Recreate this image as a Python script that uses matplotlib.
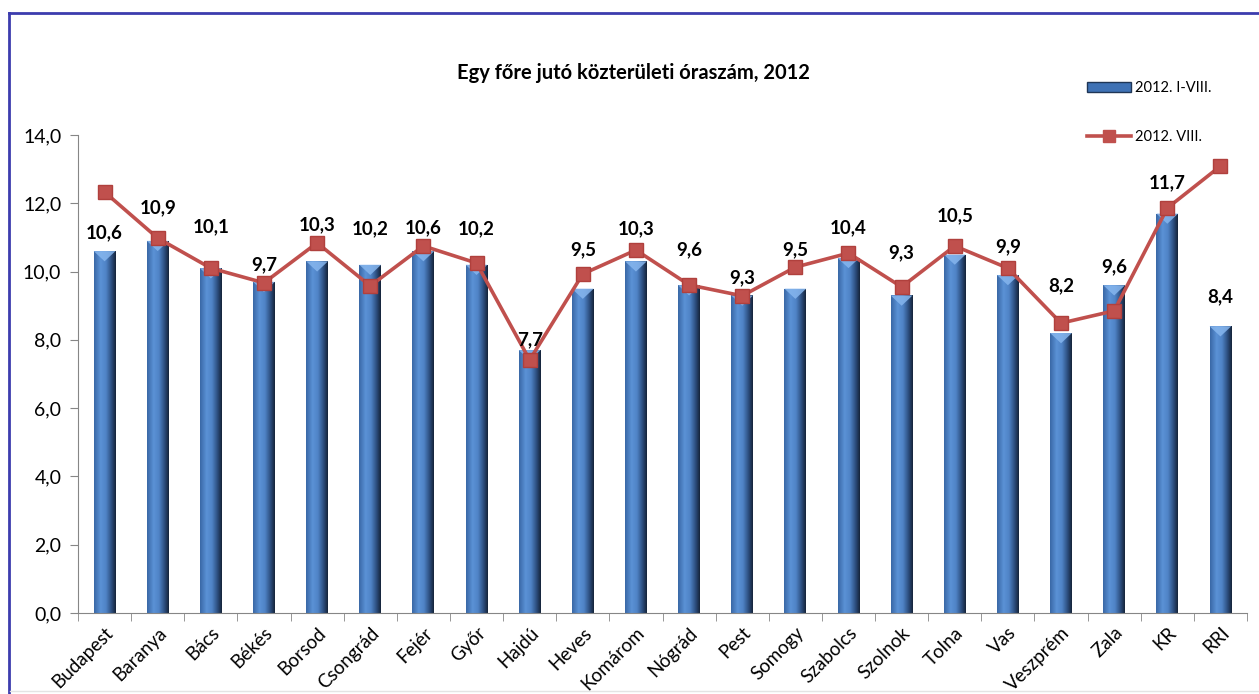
import matplotlib
matplotlib.use('Agg')
import matplotlib.pyplot as plt
import numpy as np
from matplotlib.colors import LinearSegmentedColormap
from matplotlib.patches import Polygon, Patch
from matplotlib.lines import Line2D

plt.rcParams['font.family'] = ['Lato', 'DejaVu Sans']

# Data
regions = ['Budapest', 'Baranya', 'Bács', 'Békés', 'Borsod', 'Csongrád', 'Fejér',
           'Győr', 'Hajdú', 'Heves', 'Komárom', 'Nógrád', 'Pest', 'Somogy',
           'Szabolcs', 'Szolnok', 'Tolna', 'Vas', 'Veszprém', 'Zala', 'KR', 'RRI']
hours_i_viii = [10.6, 10.9, 10.1, 9.7, 10.3, 10.2, 10.6, 10.2, 7.7, 9.5, 10.3,
                9.6, 9.3, 9.5, 10.4, 9.3, 10.5, 9.9, 8.2, 9.6, 11.7, 8.4]
hours_viii = [12.33, 10.98, 10.1, 9.67, 10.84, 9.58, 10.75, 10.25, 7.41, 9.93, 10.63,
              9.61, 9.29, 10.13, 10.54, 9.55, 10.75, 10.1, 8.49, 8.85, 11.86, 13.09]
# heights where the value labels sit (placed by hand in the original)
label_y = [11.13, 11.86, 11.31, 10.19, 11.36, 11.25, 11.28, 11.25, 8.0, 10.63, 11.25,
           10.63, 9.81, 10.63, 11.28, 10.54, 11.63, 10.72, 9.58, 10.13, 12.59, 9.26]

W, H = 1259, 694
fig = plt.figure(figsize=(W / 100, H / 100), dpi=100)
ax = fig.add_axes([78 / W, 1 - 613 / H, (1247 - 78) / W, (613 - 135) / H])

x = np.arange(len(regions))
bar_w = 0.41
line_red = '#c0504d'

bar_cmap = LinearSegmentedColormap.from_list(
    'cyl', [(0.0, '#3a68a6'), (0.3, '#5b92d6'), (0.55, '#4f83c6'),
            (0.8, '#2d4f80'), (1.0, '#15243a')])
grad = np.linspace(0, 1, 64).reshape(1, -1)

bars = ax.bar(x, hours_i_viii, width=bar_w, color='#4a7ebb', zorder=2)
for b in bars:
    x0, w, h = b.get_x(), b.get_width(), b.get_height()
    im = ax.imshow(grad, extent=[x0, x0 + w, 0, h], aspect='auto', cmap=bar_cmap,
                   zorder=2, interpolation='bilinear')
    im.set_clip_path(b)
    # light bevel on the top of each column
    tri = Polygon([[x0, h], [x0 + w, h], [x0 + w / 2, h - 0.3]], closed=True,
                  facecolor='#86b6ee', edgecolor='none', alpha=0.85, zorder=2.5)
    ax.add_patch(tri)

ax.plot(x, hours_viii, color=line_red, lw=2.6, marker='s', markersize=10,
        markerfacecolor=line_red, markeredgecolor='#b0403d', zorder=3)

for xi, v, ly in zip(x, hours_i_viii, label_y):
    ax.text(xi, ly, f'{v:.1f}'.replace('.', ','), ha='center', va='center',
            fontsize=13.5, fontweight='bold', color='black', zorder=4)

ax.set_xlim(-0.5, len(regions) - 0.5)
ax.set_ylim(0, 14)
ax.set_yticks(np.arange(0, 14.1, 2))
ax.set_yticklabels([f'{t:.1f}'.replace('.', ',') for t in np.arange(0, 14.1, 2)],
                   fontsize=14)
ax.set_xticks(x)
ax.set_xticklabels(regions, rotation=45, ha='right', rotation_mode='anchor',
                   fontsize=13.5)
ax.tick_params(axis='x', length=0, pad=8)
ax.set_xticks(np.arange(-0.5, len(regions), 1), minor=True)
ax.tick_params(axis='x', which='minor', length=6, color='#868686')
ax.tick_params(axis='y', length=6, color='#868686', pad=6)
for s in ['top', 'right']:
    ax.spines[s].set_visible(False)
ax.spines['left'].set_color('#868686')
ax.spines['bottom'].set_color('#868686')

fig.text(633 / W, 1 - 73 / H, 'Egy főre jutó közterületi óraszám, 2012',
         ha='center', va='center', fontsize=14.5, fontweight='bold')

handles = [Patch(facecolor='#3f72b5', edgecolor='#1f3656'),
           Line2D([], [], color=line_red, lw=2.6, marker='s', markersize=8)]
fig.legend(handles, ['2012. I-VIII.', '2012. VIII.'], loc='upper left',
           bbox_to_anchor=(1080 / W, 1 - 74 / H), frameon=False, fontsize=10.5,
           labelspacing=2.4, handlelength=3.0, handletextpad=0.3, borderpad=0)

# chart frame
fig.add_artist(Line2D([8.5 / W, 8.5 / W], [0, 1 - 12.5 / H], transform=fig.transFigure,
                      color='#3c3cae', lw=2))
fig.add_artist(Line2D([8.5 / W, 1], [1 - 12.5 / H, 1 - 12.5 / H], transform=fig.transFigure,
                      color='#3c3cae', lw=2))
fig.add_artist(Line2D([10 / W, 1], [1 - 690.5 / H, 1 - 690.5 / H], transform=fig.transFigure,
                      color='#e4e4e4', lw=1))

fig.savefig('out.png', dpi=100)
